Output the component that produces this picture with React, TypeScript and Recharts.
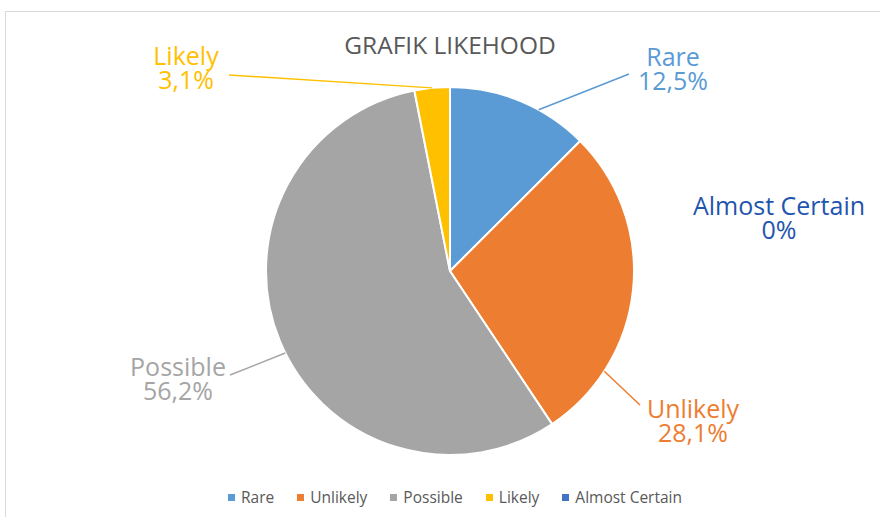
import React from "react";
import { PieChart, Pie, Cell, Legend } from "recharts";

const categories = ["Rare", "Unlikely", "Possible", "Likely", "Almost Certain"];
const values = [12.5, 28.1, 56.2, 3.1, 0];
const valueLabels = ["12,5%", "28,1%", "56,2%", "3,1%", "0%"];

const sliceColors = ["#5B9BD5", "#ED7D31", "#A5A5A5", "#FFC000", "#4472C4"];
const labelColors = ["#5B9BD5", "#ED7D31", "#A5A5A5", "#FFC000", "#1F55AE"];

// where Excel dropped each data label, relative to the pie centre;
// "at" = where along the slice's arc the leader line is attached (0..1)
const labelSpots = [
  { tx: 223, ty: -205, lx: 179, ly: -197, at: 0.64 },
  { tx: 243, ty: 147, lx: 190, ly: 134, at: 0.77 },
  { tx: -272, ty: 105, lx: -220, ly: 104, at: 0.48 },
  { tx: -264, ty: -206, lx: -221, ly: -196, at: 0.5 },
  { tx: 329, ty: -56, lx: 0, ly: 0, at: 0 },
];

const data = categories.map((name, i) => ({ name, value: values[i], text: valueLabels[i] }));

// recharts adds its 5px margin on top of these
const CX = 445;
const CY = 266;
const R = 184;
const FONT = "'Open Sans', 'Noto Sans', sans-serif";

const renderLabel = (props: any) => {
  const { cx, cy, outerRadius, startAngle, endAngle, index } = props;
  const spot = labelSpots[index];
  const d = data[index];
  let line = null;
  if (d.value > 0) {
    const a0 = 90 - startAngle;
    const a1 = 90 - endAngle;
    const a = a0 + (a1 - a0) * spot.at;
    const rad = (a * Math.PI) / 180;
    const x1 = cx + outerRadius * Math.sin(rad);
    const y1 = cy - outerRadius * Math.cos(rad);
    line = (
      <line x1={x1} y1={y1} x2={cx + spot.lx} y2={cy + spot.ly} stroke={sliceColors[index]} strokeWidth={1.5} />
    );
  }
  return (
    <g key={`lbl-${index}`}>
      {line}
      <text
        x={cx + spot.tx}
        y={cy + spot.ty}
        textAnchor="middle"
        fill={labelColors[index]}
        fontFamily={FONT}
        fontSize={25}
      >
        <tspan x={cx + spot.tx} dy={0}>{d.name}</tspan>
        <tspan x={cx + spot.tx} dy={24}>{d.text}</tspan>
      </text>
    </g>
  );
};

const renderLegend = () => (
  <div
    style={{
      display: "flex",
      justifyContent: "center",
      alignItems: "center",
      fontFamily: FONT,
      fontSize: 15.5,
      color: "#595959",
      paddingLeft: 30,
    }}
  >
    {categories.map((c, i) => (
      <div key={c} style={{ display: "flex", alignItems: "center", marginRight: i < categories.length - 1 ? 23 : 0 }}>
        <span style={{ width: 7, height: 7, background: sliceColors[i], marginRight: 6, display: "inline-block" }} />
        <span>{c}</span>
      </div>
    ))}
  </div>
);

export default function App() {
  return (
    <div style={{ position: "fixed", left: 0, top: 0, width: 880, height: 517, overflow: "hidden", background: "#fff" }}>
      <div
        style={{
          position: "absolute",
          left: 5,
          top: 11,
          width: 900,
          height: 600,
          border: "1px solid #d9d9d9",
        }}
      />
      <div
        style={{
          position: "absolute",
          left: 0,
          width: 900,
          top: 29,
          textAlign: "center",
          fontFamily: "'Liberation Sans Narrow', 'Open Sans', sans-serif",
          fontSize: 24.5,
          color: "#595959",
          lineHeight: "32px",
        }}
      >
        GRAFIK LIKEHOOD
      </div>
      <div style={{ position: "absolute", left: 0, top: 0 }}>
        <PieChart width={880} height={517}>
          <Pie
            data={data}
            dataKey="value"
            nameKey="name"
            cx={CX}
            cy={CY}
            outerRadius={R}
            startAngle={90}
            endAngle={-270}
            stroke="#ffffff"
            strokeWidth={2}
            label={renderLabel}
            labelLine={false}
            isAnimationActive={false}
          >
            {data.map((d, i) => (
              <Cell key={d.name} fill={sliceColors[i]} />
            ))}
          </Pie>
          <Legend content={renderLegend} wrapperStyle={{ left: 0, top: 486, width: 880 }} />
        </PieChart>
      </div>
    </div>
  );
}
